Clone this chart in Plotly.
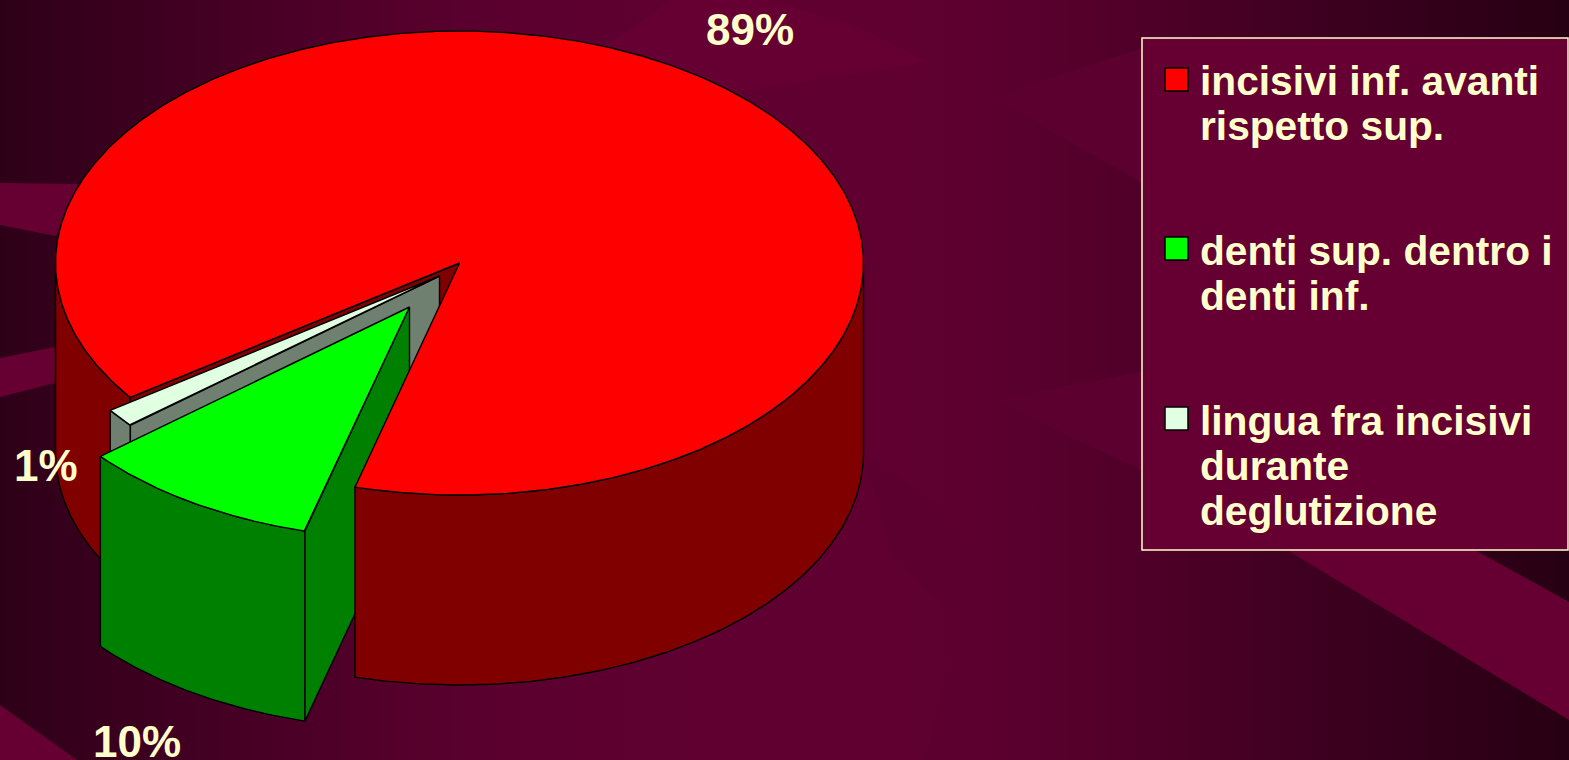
"""3D exploded pie: posizione incisivi, on a maroon slide background."""

import numpy as np
import plotly.graph_objects as go

# ── Data ────────────────────────────────────────────────────────

CATEGORIES = [
    ["incisivi inf. avanti", "rispetto sup."],
    ["denti sup. dentro i", "denti inf."],
    ["lingua fra incisivi", "durante", "deglutizione"],
]
SHARES = [89, 9.7, 1.3]  # slices as drawn, labels show them rounded

# ── Style and layout ────────────────────────────────────────────

TOP_COLORS = ["#FF0000", "#00FF00", "#E1FFE1"]
SIDE_COLORS = ["#800000", "#008000", "#708070"]
TEXT_COLOR = "#FFFFCC"
BAND_COLOR = "#660033"
FAINT_BAND_COLOR = "#5C002F"
FONT = "Liberation Sans"

WIDTH, HEIGHT = 1569, 760
CX, CY, RX, RY, DEPTH = 459.5, 263, 404, 232, 190
START_ANGLE = 234.6  # degrees clockwise from the top
EXPLODE = [(0, 0), (-50, 44), (-20, 13)]
LABEL_POS = [(750, 29), (137, 741), (46, 465)]

LEGEND_BOX = (1142, 38, 1568, 550)
LEGEND_SWATCH_X = (1165, 1188)
LEGEND_SWATCH_Y = [68, 237, 407]
LEGEND_TEXT_X = 1198
LEGEND_LINE_Y = [[81, 126], [251, 296], [421, 466, 511]]

# background ribbons, roughly traced
BANDS = [
    ([600, 671, 767, 858, 927, 740], [50, 0, 0, 27, 62, 92]),
    ([0, 78, 56, 0], [183, 184, 236, 225]),
    ([0, 55, 55, 0], [358, 347, 383, 397]),
    ([1150, 1475, 1569, 1569, 1287, 1141], [370, 550, 602, 720, 550, 470]),
    ([0, 77, 0], [705, 760, 760]),
]
FAINT_BANDS = [
    ([981, 1142, 1142, 1019], [100, 48, 183, 113]),
    ([993, 1150, 1141], [400, 370, 470]),
    ([863, 943, 976, 961, 893], [450, 510, 553, 620, 560]),
    ([961, 989, 992, 925, 940], [620, 693, 760, 760, 700]),
]
GRADIENT = [
    (0.0, "#2E0018"), (0.19, "#4C0027"), (0.3, "#5A002E"), (0.45, "#5F0031"), (0.58, "#5F0031"),
    (0.65, "#5A002E"), (0.73, "#4F0028"), (0.85, "#3C001F"), (1.0, "#270013"),
]

fig = go.Figure()


def add_poly(xs, ys, color, outline=True):
    fig.add_trace(go.Scatter(
        x=xs, y=ys, mode="lines", fill="toself", fillcolor=color,
        line=dict(color="black", width=1.4) if outline else dict(width=0),
        hoverinfo="skip", showlegend=False,
    ))


def rim(angles, offset):
    rad = np.radians(angles)
    return CX + offset[0] + RX * np.sin(rad), CY + offset[1] - RY * np.cos(rad)


def outer_wall(a0, a1, offset, color, keep=None):
    """Draw the front-facing parts of the outer wall of a slice."""
    angles = np.linspace(a0, a1, 720)
    mask = np.cos(np.radians(angles)) < 0
    if keep is not None:
        mask &= keep(angles)
    idx = np.flatnonzero(mask)
    if len(idx) == 0:
        return
    for part in np.split(idx, np.flatnonzero(np.diff(idx) > 1) + 1):
        x, y = rim(angles[part], offset)
        add_poly(np.r_[x, x[::-1], x[0]], np.r_[y, y[::-1] + DEPTH, y[0]], color)


def cut_wall(a, offset, color):
    x, y = rim(np.array([a]), offset)
    px, py = CX + offset[0], CY + offset[1]
    add_poly([px, x[0], x[0], px, px], [py, y[0], y[0] + DEPTH, py + DEPTH, py], color)


def top_face(a0, a1, offset, color):
    x, y = rim(np.linspace(a0, a1, 720), offset)
    px, py = CX + offset[0], CY + offset[1]
    add_poly(np.r_[px, x, px], np.r_[py, y, py], color)


# ── Background ──────────────────────────────────────────────────

fig.add_trace(go.Scatter(
    x=[0, WIDTH, WIDTH, 0, 0], y=[0, 0, HEIGHT, HEIGHT, 0],
    mode="lines", fill="toself", line=dict(width=0),
    fillgradient=dict(type="horizontal", colorscale=GRADIENT),
    hoverinfo="skip", showlegend=False,
))
for bx, by in FAINT_BANDS:
    add_poly(bx, by, FAINT_BAND_COLOR, outline=False)
for bx, by in BANDS:
    add_poly(bx, by, BAND_COLOR, outline=False)

# ── Pie ─────────────────────────────────────────────────────────

edges = START_ANGLE + np.r_[0, np.cumsum(SHARES)] * 3.6
spans = list(zip(edges[:-1], edges[1:]))

# painted back to front: the far side of the big slice goes first,
# its near side and top face go on after the exploded slices
red0, red1 = spans[0]
outer_wall(red0, red1, EXPLODE[0], SIDE_COLORS[0], keep=lambda a: a < 360)
cut_wall(red0, EXPLODE[0], SIDE_COLORS[0])
for i in (2, 1):
    a0, a1 = spans[i]
    outer_wall(a0, a1, EXPLODE[i], SIDE_COLORS[i])
    cut_wall(a0 % 360, EXPLODE[i], SIDE_COLORS[i])
    top_face(a0, a1, EXPLODE[i], TOP_COLORS[i])
outer_wall(red0, red1, EXPLODE[0], SIDE_COLORS[0], keep=lambda a: a >= 360)
top_face(red0, red1, EXPLODE[0], TOP_COLORS[0])

annotations = [
    dict(x=x, y=y, text=f"<b>{round(share)}%</b>", showarrow=False, xanchor="center", yanchor="middle",
         font=dict(family=FONT, size=44, color=TEXT_COLOR))
    for share, (x, y) in zip(SHARES, LABEL_POS)
]

# ── Legend ──────────────────────────────────────────────────────

shapes = [dict(
    type="rect", x0=LEGEND_BOX[0], y0=LEGEND_BOX[1], x1=LEGEND_BOX[2], y1=LEGEND_BOX[3],
    fillcolor=BAND_COLOR, line=dict(color=TEXT_COLOR, width=1.5), layer="above",
)]
for lines, color, sy, line_ys in zip(CATEGORIES, TOP_COLORS, LEGEND_SWATCH_Y, LEGEND_LINE_Y):
    shapes.append(dict(
        type="rect", x0=LEGEND_SWATCH_X[0], x1=LEGEND_SWATCH_X[1], y0=sy, y1=sy + 23,
        fillcolor=color, line=dict(color="black", width=1.5), layer="above",
    ))
    for line, ly in zip(lines, line_ys):
        annotations.append(dict(
            x=LEGEND_TEXT_X, y=ly, text=f"<b>{line}</b>", showarrow=False, xanchor="left", yanchor="middle",
            font=dict(family=FONT, size=40.7, color=TEXT_COLOR),
        ))

fig.update_layout(
    width=WIDTH,
    height=HEIGHT,
    margin=dict(l=0, r=0, t=0, b=0),
    paper_bgcolor="#2E0018",
    plot_bgcolor="#2E0018",
    showlegend=False,
    xaxis=dict(range=[0, WIDTH], visible=False, fixedrange=True),
    yaxis=dict(range=[HEIGHT, 0], visible=False, fixedrange=True),
    shapes=shapes,
    annotations=annotations,
)

fig.write_html(
    "out.html",
    config=dict(displayModeBar=False),
    post_script="document.body.style.margin='0';document.body.style.overflow='hidden';",
)
